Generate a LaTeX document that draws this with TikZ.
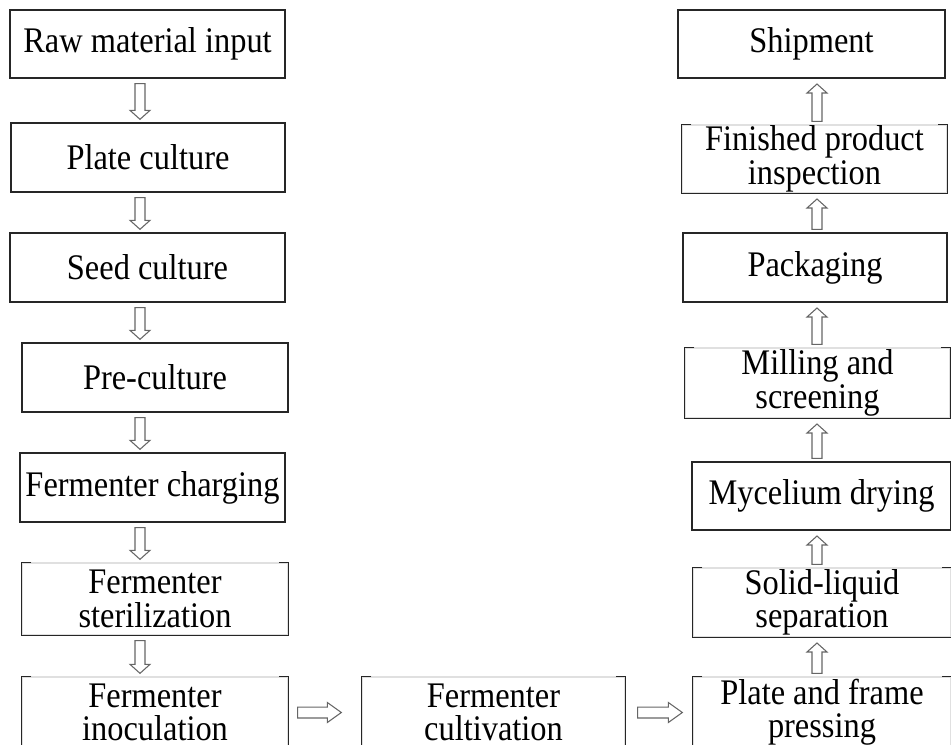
\documentclass[tikz,border=0pt]{standalone}
\usepackage{fontspec}
\setmainfont{Liberation Serif}[FakeStretch=0.9]
\usetikzlibrary{calc}

\tikzset{
  boxline/.style={draw=black!85, line width=1pt},
  flowline/.style={draw=black!60, line width=0.8pt, fill=white},
  stepbox/.style 2 args={boxline, align=center, inner sep=0pt,
    font=\fontsize{27pt}{25pt}\selectfont,
    minimum width=#1*0.75pt, minimum height=#2*0.75pt},
  openbox/.style 2 args={stepbox={#1}{#2}, draw=black!12}
}

% dark sides of a box whose top edge is faint
\newcommand{\bracketsides}[1]{%
  \draw[boxline] ([xshift=7.5pt]#1.north west) -- (#1.north west) -- (#1.south west)
    -- (#1.south east) -- (#1.north east) -- ([xshift=-7.5pt]#1.north east);}

% hollow block arrow: from, to, gap at tail, gap at tip
\def\shaftw{3.75pt}\def\headw{7.5pt}\def\headlen{6.75pt}
\newcommand{\flowarrow}[4]{%
  \coordinate (fs) at (#1);
  \coordinate (ft) at (#2);
  \coordinate (fa) at ($(fs)!#3!(ft)$);
  \coordinate (fb) at ($(ft)!#4!(fs)$);
  \coordinate (fh) at ($(fb)!\headlen!(fa)$);
  \draw[flowline] ($(fa)!\shaftw!90:(fb)$) -- ($(fh)!\shaftw!90:(fb)$)
    -- ($(fh)!\headw!90:(fb)$) -- (fb) -- ($(fh)!\headw!-90:(fb)$)
    -- ($(fh)!\shaftw!-90:(fb)$) -- ($(fa)!\shaftw!-90:(fb)$) -- cycle;}

\begin{document}
\begin{tikzpicture}[x=0.75pt, y=-0.75pt]
  \useasboundingbox (0,0) rectangle (951,744);
  \coordinate (lcol) at (140,0);
  \coordinate (rcol) at (817,0);

  % left column, going down
  \node[stepbox={275}{68}] (raw) at (147.5,44) {Raw material input};
  \node[stepbox={274}{69}] (plate) at (148,157.5) {Plate culture};
  \node[stepbox={275}{69}] (seed) at (147.5,267.5) {Seed culture};
  \node[stepbox={266}{69}] (pre) at (155,377.5) {Pre-culture};
  \node[stepbox={265}{69}] (charge) at (152.5,487.5) {Fermenter charging};
  \node[openbox={266}{72}] (steril) at (155,599) {Fermenter\\sterilization};
  \node[openbox={266}{71}] (inoc) at (155,712.5) {Fermenter\\inoculation};

  % bottom row
  \node[openbox={263}{71}] (cult) at (493.5,712.5) {Fermenter\\cultivation};
  \node[openbox={258}{71}] (press) at (822,712.5) {Plate and frame\\pressing};

  % right column, going up
  \node[openbox={258}{69}] (solid) at (822,602.5) {Solid-liquid\\separation};
  \node[stepbox={259}{68}] (dry) at (821.5,496) {Mycelium drying};
  \node[openbox={265}{70}] (mill) at (817.5,383) {Milling and\\screening};
  \node[stepbox={264}{69}] (pack) at (815,267.5) {Packaging};
  \node[openbox={265}{68}] (check) at (814.5,159) {Finished product\\inspection};
  \node[stepbox={267}{68}] (ship) at (811.5,44) {Shipment};

  \foreach \n in {steril,inoc,cult,press,solid,mill,check}
    \bracketsides{\n};

  \flowarrow{raw.south -| lcol}{plate.north -| lcol}{3.75pt}{2.25pt}
  \flowarrow{plate.south -| lcol}{seed.north -| lcol}{3.75pt}{2.25pt}
  \flowarrow{seed.south -| lcol}{pre.north -| lcol}{3.75pt}{2.25pt}
  \flowarrow{pre.south -| lcol}{charge.north -| lcol}{3.75pt}{2.25pt}
  \flowarrow{charge.south -| lcol}{steril.north -| lcol}{3.75pt}{2.25pt}
  \flowarrow{steril.south -| lcol}{inoc.north -| lcol}{3.75pt}{2.25pt}

  \flowarrow{press.north -| rcol}{solid.south -| rcol}{2.25pt}{4pt}
  \flowarrow{solid.north -| rcol}{dry.south -| rcol}{2.25pt}{4pt}
  \flowarrow{dry.north -| rcol}{mill.south -| rcol}{2.25pt}{4pt}
  \flowarrow{mill.north -| rcol}{pack.south -| rcol}{2.25pt}{4pt}
  \flowarrow{pack.north -| rcol}{check.south -| rcol}{2.25pt}{4pt}
  \flowarrow{check.north -| rcol}{ship.south -| rcol}{2.25pt}{4pt}

  \def\shaftw{4.1pt}\def\headlen{10.5pt}
  \flowarrow{inoc.east}{cult.west}{6.75pt}{15pt}
  \flowarrow{cult.east}{press.west}{9pt}{7.5pt}
\end{tikzpicture}
\end{document}
